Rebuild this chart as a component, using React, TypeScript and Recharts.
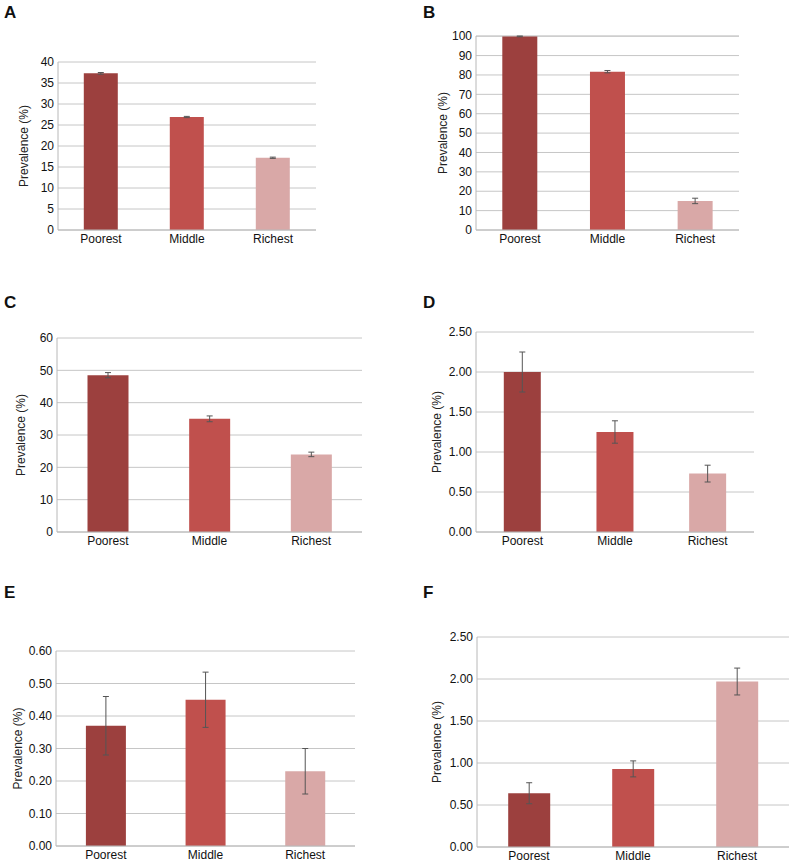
import React from 'react';
import { BarChart, Bar, XAxis, YAxis, CartesianGrid, Cell, ErrorBar } from 'recharts';

// ── data ─────────────────────────────────────────────────────────────
const categories = ['Poorest', 'Middle', 'Richest'];

const valuesA = [37.3, 26.9, 17.2];
const errorsA = [0.2, 0.15, 0.15];
const ticksA = [0, 5, 10, 15, 20, 25, 30, 35, 40];

const valuesB = [99.9, 81.7, 15.0];
const errorsB = [0.2, 0.6, 1.4];
const ticksB = [0, 10, 20, 30, 40, 50, 60, 70, 80, 90, 100];

const valuesC = [48.5, 35.0, 24.0];
const errorsC = [0.8, 0.9, 0.7];
const ticksC = [0, 10, 20, 30, 40, 50, 60];

const valuesD = [2.0, 1.25, 0.73];
const errorsD = [0.25, 0.14, 0.105];
const ticksD = [0, 0.5, 1.0, 1.5, 2.0, 2.5];

const valuesE = [0.37, 0.45, 0.23];
const errorsE = [0.09, 0.085, 0.07];
const ticksE = [0, 0.1, 0.2, 0.3, 0.4, 0.5, 0.6];

const valuesF = [0.64, 0.93, 1.97];
const errorsF = [0.125, 0.095, 0.16];
const ticksF = [0, 0.5, 1.0, 1.5, 2.0, 2.5];

const barColors = ['#9c403e', '#c0504d', '#d9a8a7'];

const FONT = '"Liberation Sans", Arial, sans-serif';

interface PanelProps {
  letter: string;
  values: number[];
  errors: number[];
  ticks: number[];
  decimals: number;
  boxX: number;
  boxY: number;
  left: number;
  right: number;
  top: number;
  bottom: number;
  labelX: number;
}

function Panel(p: PanelProps) {
  const data = categories.map((name, i) => ({ name, value: p.values[i], err: p.errors[i] }));
  const width = p.right - p.boxX + 2;
  const height = p.bottom - p.boxY + 22;
  const yMax = p.ticks[p.ticks.length - 1];
  const labelDx = p.labelX - p.boxX;

  const YLabel = (props: any) => {
    const vb = props.viewBox || {};
    const cy = vb.y + vb.height / 2;
    return (
      <text
        x={labelDx}
        y={cy}
        transform={`rotate(-90, ${labelDx}, ${cy})`}
        textAnchor="middle"
        dominantBaseline="central"
        fontSize={12}
        fontFamily={FONT}
        fill="#222"
      >
        Prevalence (%)
      </text>
    );
  };

  return (
    <>
      <div
        style={{
          position: 'absolute',
          left: p.boxX + 4,
          top: p.boxY + 3,
          fontFamily: FONT,
          fontWeight: 'bold',
          fontSize: 17,
          color: '#111',
        }}
      >
        {p.letter}
      </div>
      <div style={{ position: 'absolute', left: p.boxX, top: p.boxY }}>
        <BarChart
          width={width}
          height={height}
          data={data}
          margin={{ top: p.top - p.boxY, right: 2, left: 0, bottom: 2 }}
          barCategoryGap="30%"
        >
          <CartesianGrid vertical={false} stroke="#c6c6c6" />
          <XAxis
            dataKey="name"
            height={20}
            tickLine={false}
            tickSize={0}
            tickMargin={4}
            axisLine={{ stroke: '#b8b8b8' }}
            tick={{ fontSize: 12, fill: '#111', fontFamily: FONT }}
          />
          <YAxis
            width={p.left - p.boxX}
            domain={[0, yMax]}
            ticks={p.ticks}
            interval={0}
            tickLine={false}
            tickSize={0}
            tickMargin={4}
            axisLine={{ stroke: '#b8b8b8' }}
            tick={{ fontSize: 12, fill: '#111', fontFamily: FONT }}
            tickFormatter={(v: number) => v.toFixed(p.decimals)}
            label={<YLabel />}
          />
          <Bar dataKey="value" isAnimationActive={false}>
            {data.map((_, i) => (
              <Cell key={i} fill={barColors[i]} />
            ))}
            <ErrorBar dataKey="err" width={3} stroke="#555" strokeWidth={1} />
          </Bar>
        </BarChart>
      </div>
    </>
  );
}

export default function App() {
  return (
    <div style={{ position: 'absolute', left: 0, top: 0, width: 793, height: 864, background: '#fff' }}>
      <Panel letter="A" values={valuesA} errors={errorsA} ticks={ticksA} decimals={0}
        boxX={0} boxY={0} left={58} right={316} top={62} bottom={230} labelX={24} />
      <Panel letter="B" values={valuesB} errors={errorsB} ticks={ticksB} decimals={0}
        boxX={419} boxY={0} left={476} right={739} top={36} bottom={230} labelX={443} />
      <Panel letter="C" values={valuesC} errors={errorsC} ticks={ticksC} decimals={0}
        boxX={0} boxY={290} left={57} right={362} top={338} bottom={532} labelX={21} />
      <Panel letter="D" values={valuesD} errors={errorsD} ticks={ticksD} decimals={2}
        boxX={419} boxY={290} left={476} right={754} top={332} bottom={532} labelX={437} />
      <Panel letter="E" values={valuesE} errors={errorsE} ticks={ticksE} decimals={2}
        boxX={0} boxY={580} left={56} right={355} top={651} bottom={846} labelX={18} />
      <Panel letter="F" values={valuesF} errors={errorsF} ticks={ticksF} decimals={2}
        boxX={419} boxY={580} left={477} right={789} top={637} bottom={847} labelX={437} />
    </div>
  );
}
